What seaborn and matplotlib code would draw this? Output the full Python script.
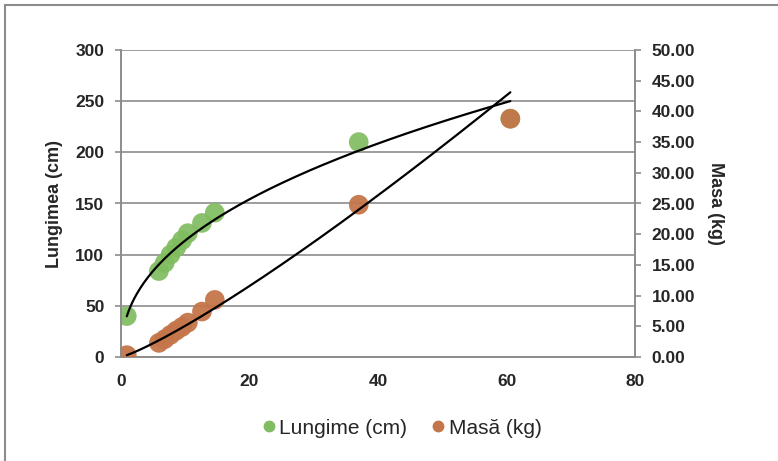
import numpy as np
import pandas as pd
import seaborn as sns
import matplotlib.pyplot as plt
from matplotlib.patches import Rectangle

# values (last length point sits behind the last mass point)
varsta = [0.9, 5.9, 6.8, 7.7, 8.6, 9.5, 10.4, 12.6, 14.6, 37.0, 60.6]
lungime = [40, 84, 92, 100, 107, 114, 121, 131, 141, 210, 233]
masa = [0.3, 2.3, 2.9, 3.6, 4.3, 4.9, 5.6, 7.4, 9.3, 24.8, 38.8]

x_ticks = [0, 20, 40, 60, 80]
left_ticks = [0, 50, 100, 150, 200, 250, 300]
right_ticks = np.arange(0, 50.01, 5)

df = pd.DataFrame({"x": varsta, "lungime": lungime, "masa": masa})

sns.set_style("white")
plt.rcParams["font.family"] = ["Liberation Sans", "DejaVu Sans"]

GREEN = "#80bc60"
BROWN = "#c4754a"
GRAY = "#8c8c8c"

fig = plt.figure(figsize=(7.78, 4.61), dpi=100)
ax = fig.add_axes([121 / 778, 1 - 357 / 461, (635 - 121) / 778, (357 - 50) / 461])
ax2 = ax.twinx()

sns.scatterplot(data=df, x="x", y="lungime", ax=ax, color=GREEN, s=200,
                edgecolor="none", alpha=0.92, zorder=3, legend=False)
sns.scatterplot(data=df, x="x", y="masa", ax=ax2, color=BROWN, s=200,
                edgecolor="none", alpha=0.95, zorder=3, legend=False)

# power trendlines, fitted on log-log
xx = np.linspace(df.x.min(), df.x.max(), 200)
b1, a1 = np.polyfit(np.log(df.x), np.log(df.lungime), 1)
ax.plot(xx, np.exp(a1) * xx ** b1, color="black", lw=1.6, zorder=4)
b2, a2 = np.polyfit(np.log(df.x), np.log(df.masa), 1)
ax2.plot(xx, np.exp(a2) * xx ** b2, color="black", lw=1.6, zorder=4)

ax.set_xlim(0, 80)
ax.set_ylim(0, 300)
ax2.set_ylim(0, 50)
ax.set_xticks(x_ticks)
ax.set_yticks(left_ticks)
ax2.set_yticks(right_ticks)
ax2.set_yticklabels([f"{v:.2f}" for v in right_ticks])

ax.yaxis.grid(True, color=GRAY, lw=1.2)
ax.set_axisbelow(True)
for a in (ax, ax2):
    a.spines["top"].set_visible(False)
    for side in ("left", "right", "bottom"):
        a.spines[side].set_color(GRAY)
        a.spines[side].set_linewidth(1.2)
    a.tick_params(length=4, width=1.2, color=GRAY, direction="out", pad=8,
                  labelsize=12.5)
    for lab in a.get_xticklabels() + a.get_yticklabels():
        lab.set_fontweight("bold")

ax.set_xlabel("")
ax.set_ylabel("Lungimea (cm)", fontsize=13, fontweight="bold", labelpad=9)
ax2.set_ylabel("Masa (kg)", fontsize=13, fontweight="bold", rotation=270,
               labelpad=21)

h1 = plt.Line2D([], [], ls="", marker="o", ms=7.5, color=GREEN, label="Lungime (cm)")
h2 = plt.Line2D([], [], ls="", marker="o", ms=7.5, color=BROWN, label="Masă (kg)")
fig.legend(handles=[h1, h2], loc="center", bbox_to_anchor=(400 / 778, 1 - 428 / 461),
           ncol=2, frameon=False, fontsize=15, handletextpad=0.0, columnspacing=1.0,
           handlelength=1.0)

fig.add_artist(Rectangle((5 / 778, -0.1), 1.2, 1.1 - 5 / 461, transform=fig.transFigure,
                         fill=False, edgecolor=GRAY, lw=1.5))

fig.savefig("out.png", dpi=100)
